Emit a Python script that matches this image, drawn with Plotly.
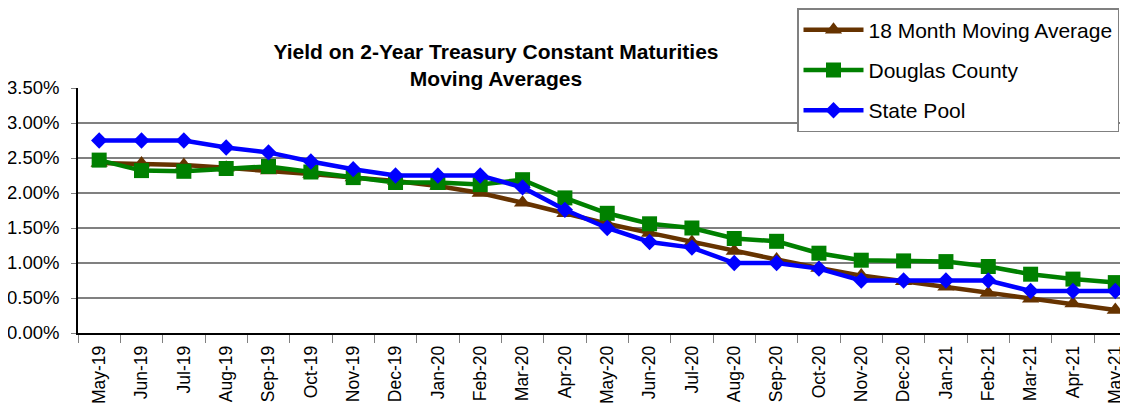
import plotly.graph_objects as go

months = ["May-19", "Jun-19", "Jul-19", "Aug-19", "Sep-19", "Oct-19", "Nov-19", "Dec-19",
          "Jan-20", "Feb-20", "Mar-20", "Apr-20", "May-20", "Jun-20", "Jul-20", "Aug-20",
          "Sep-20", "Oct-20", "Nov-20", "Dec-20", "Jan-21", "Feb-21", "Mar-21", "Apr-21", "May-21"]

moving_avg_18 = [2.43, 2.42, 2.40, 2.36, 2.32, 2.27, 2.22, 2.17, 2.10, 2.00, 1.86, 1.71, 1.56,
                 1.43, 1.30, 1.17, 1.05, 0.93, 0.82, 0.74, 0.66, 0.57, 0.49, 0.42, 0.33]
douglas_county = [2.47, 2.32, 2.31, 2.35, 2.38, 2.30, 2.22, 2.15, 2.15, 2.12, 2.19, 1.93, 1.71,
                  1.56, 1.50, 1.35, 1.31, 1.14, 1.04, 1.03, 1.02, 0.95, 0.84, 0.77, 0.72]
state_pool = [2.75, 2.75, 2.75, 2.65, 2.58, 2.45, 2.34, 2.25, 2.25, 2.25, 2.08, 1.76, 1.50,
              1.30, 1.22, 1.00, 1.00, 0.92, 0.75, 0.75, 0.75, 0.75, 0.60, 0.60, 0.60]

y_ticks = [0, 0.5, 1.0, 1.5, 2.0, 2.5, 3.0, 3.5]
y_tick_labels = ["0.00%", "0.50%", "1.00%", "1.50%", "2.00%", "2.50%", "3.00%", "3.50%"]

series = [
    ("18 Month Moving Average", moving_avg_18, "#663300", "triangle-up", 15),
    ("Douglas County", douglas_county, "#008000", "square", 15),
    ("State Pool", state_pool, "#0000FF", "diamond", 12.5),
]

W, H = 1120, 398  # page body has an 8px default margin

fig = go.Figure()
for i, (name, vals, color, sym, size) in enumerate(series):
    fig.add_trace(go.Scatter(
        x=months, y=[v / 100 for v in vals], name=name, mode="lines+markers",
        line=dict(color=color, width=4.5),
        marker=dict(symbol=sym, size=size, color=color),
        legendgroup=f"g{i}",
    ))

fig.update_layout(
    width=W, height=H,
    margin=dict(l=70, r=0, t=80, b=73, autoexpand=False),
    paper_bgcolor="white", plot_bgcolor="white",
    font=dict(family="Liberation Sans, Arial, sans-serif", color="black"),
    title=dict(
        text="<b>Yield on 2-Year Treasury Constant Maturities<br>Moving Averages</b>",
        x=488 / W, xanchor="center", xref="container",
        y=1 - 51 / H, yanchor="top", yref="container",
        font=dict(size=21, color="black"),
    ),
    showlegend=True,
    legend=dict(
        xref="container", yref="container",
        x=789 / W, xanchor="left", y=1.0, yanchor="top",
        bordercolor="#808080", borderwidth=1.5, bgcolor="white",
        font=dict(size=21, color="black"),
        tracegroupgap=10, itemwidth=60,
    ),
    xaxis=dict(
        type="category", tickangle=-90, tickson="boundaries",
        ticks="outside", ticklen=8, tickcolor="#808080",
        showline=True, linecolor="black", linewidth=1.5,
        showgrid=False, tickfont=dict(size=17.5), range=[-0.5, 24.3],
        ticklabeloverflow="allow", ticklabelstandoff=4,
    ),
    yaxis=dict(
        range=[0, 0.035], tickvals=[v / 100 for v in y_ticks], ticktext=y_tick_labels,
        showgrid=True, gridcolor="#808080", gridwidth=1.5,
        showline=True, linecolor="black", linewidth=1.5,
        ticks="outside", ticklen=5, tickcolor="#808080",
        tickfont=dict(size=18.5), zeroline=False, ticklabelstandoff=8,
    ),
)

fig.write_html("out.html")
